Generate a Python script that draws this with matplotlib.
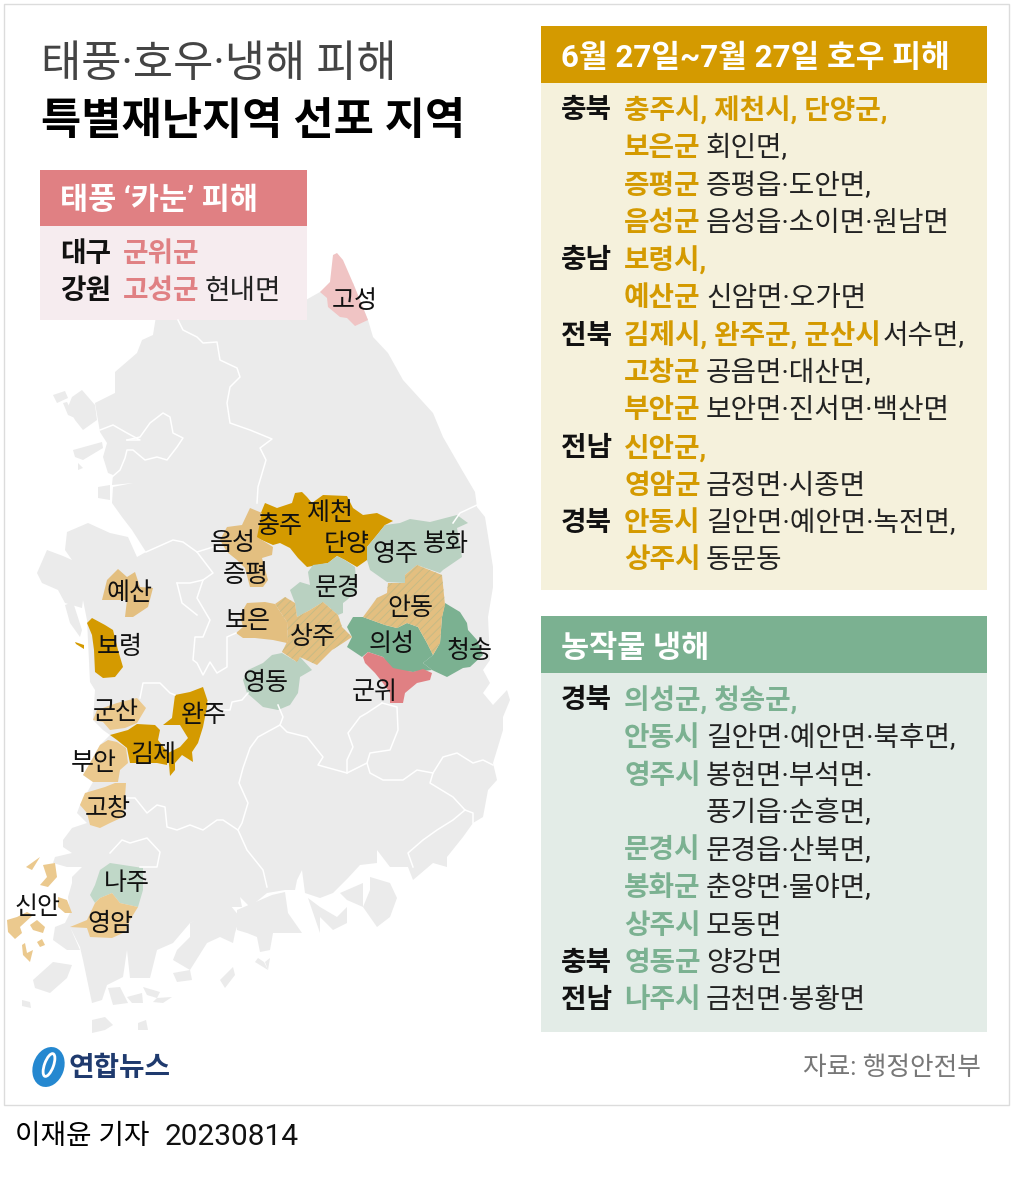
import matplotlib
matplotlib.use("Agg")
import matplotlib.pyplot as plt
from matplotlib.patches import Polygon, Rectangle, Ellipse

plt.rcParams["font.family"] = ["Roboto", "Noto Sans CJK KR", "DejaVu Sans"]
plt.rcParams["hatch.linewidth"] = 0.7

GOLD = "#d49a00"
TAN = "#e3bf80"
SAND = "#ebc98e"
GREEN = "#7bb191"
MINT = "#b9d1c1"
RED = "#e08083"
ROSE = "#f0c4c4"
LAND = "#ebebeb"

# map outlines, in picture pixels
mainland = [(157, 310), (297, 305), (320, 292), (353, 283), (368, 320), (373, 337), (388, 353), (403, 380), (433, 413),
            (443, 437), (462, 470), (475, 492), (477, 507), (485, 517), (493, 567), (493, 587), (488, 617), (490, 660),
            (483, 670), (490, 683), (483, 693), (493, 705), (507, 690), (510, 700), (503, 717), (503, 730), (497, 750),
            (493, 763), (497, 780), (488, 790), (483, 817), (473, 823), (463, 837), (447, 857), (447, 867), (433, 863),
            (413, 880), (408, 867), (390, 867), (377, 850), (377, 863), (360, 865), (348, 878), (333, 893), (320, 898),
            (305, 893), (302, 870), (297, 880), (295, 890), (285, 890), (267, 893), (250, 907), (240, 897), (242, 907),
            (227, 907), (213, 913), (190, 923), (173, 943), (157, 950), (150, 978), (130, 978), (127, 950), (123, 977),
            (107, 985), (102, 1000), (92, 1003), (83, 960), (80, 947), (70, 927), (80, 950), (67, 950), (53, 940),
            (55, 927), (65, 923), (70, 913), (68, 897), (72, 883), (72, 877), (82, 867), (67, 867), (53, 863), (55, 857),
            (72, 853), (63, 847), (63, 840), (72, 828), (87, 823), (77, 813), (80, 805), (93, 782), (83, 775), (90, 763),
            (100, 745), (110, 735), (103, 730), (93, 720), (95, 690), (90, 682), (87, 620), (83, 600), (82, 608),
            (65, 603), (58, 590), (42, 583), (37, 573), (47, 550), (63, 556), (72, 560), (65, 550), (67, 532), (88, 523),
            (110, 533), (128, 537), (137, 557), (146, 552), (132, 530), (122, 517), (112, 503), (113, 487), (133, 483),
            (112, 485), (113, 475), (108, 473), (103, 457), (107, 443), (100, 432), (95, 403), (115, 393), (115, 372),
            (137, 353), (142, 340), (153, 335)]
land_islands = [
    [(72, 397), (82, 390), (95, 405), (97, 420), (83, 430), (75, 420), (68, 407)],
    [(53, 395), (65, 391), (68, 398), (57, 403)],
    [(63, 403), (67, 402), (75, 418), (68, 415)],
    [(73, 450), (102, 442), (103, 448), (83, 460), (75, 457)],
    [(78, 463), (83, 468), (78, 470)],
    [(98, 487), (110, 485), (110, 500), (98, 498)],
    [(65, 605), (73, 602), (82, 630), (80, 637), (70, 623)],
    [(210, 912), (230, 905), (240, 917), (235, 933), (233, 943), (220, 937), (207, 943), (190, 970), (173, 960),
     (177, 950), (190, 937), (190, 923)],
    [(272, 895), (285, 892), (288, 913), (302, 933), (273, 933), (270, 950), (260, 952), (257, 937), (247, 933),
     (237, 930), (237, 910)],
    [(308, 898), (320, 907), (337, 917), (347, 907), (347, 923), (333, 930), (320, 917), (320, 933)],
    [(370, 877), (390, 883), (397, 898), (390, 917), (377, 927), (363, 907), (370, 890)],
    [(340, 893), (363, 883), (363, 907), (347, 900)],
    [(33, 980), (53, 962), (72, 965), (67, 978), (50, 993), (35, 988)],
    [(108, 988), (120, 987), (128, 1003), (113, 1005)],
    [(127, 997), (142, 993), (143, 1003), (132, 1003)],
    [(143, 987), (160, 992), (157, 998), (147, 995)],
    [(157, 998), (172, 997), (163, 1003), (153, 1002)],
    [(173, 973), (190, 970), (192, 980), (177, 982)],
    [(22, 1000), (30, 1002), (31, 1008), (22, 1006)],
    [(220, 980), (233, 967), (235, 975), (225, 988)],
    [(265, 962), (270, 958), (268, 970)],
    [(258, 958), (264, 962), (268, 970), (255, 962)],
    [(92, 1020), (105, 1017), (113, 1025), (105, 1030), (92, 1033)],
    [(138, 1023), (146, 1020), (148, 1030), (138, 1030)],
]

# province and city lines
borders = [
    [(178, 320), (183, 330), (197, 337), (203, 343), (217, 342), (220, 360), (237, 368), (240, 377), (230, 387),
     (227, 403), (230, 423), (250, 430), (272, 439), (260, 448), (266, 460), (258, 487), (257, 503)],
    [(127, 440), (140, 440), (127, 433), (113, 425), (100, 430)],
    [(127, 440), (140, 437), (150, 423), (163, 413), (170, 417), (173, 433), (183, 438), (177, 447), (167, 460),
     (157, 457), (145, 460), (133, 450), (127, 450), (125, 458), (120, 470), (112, 477)],
    [(146, 552), (173, 540), (183, 542), (197, 552), (213, 573), (203, 580), (197, 598), (210, 620), (203, 637),
     (195, 637), (193, 660), (197, 663), (203, 675), (210, 662), (217, 673), (227, 667), (227, 637), (236, 633)],
    [(197, 552), (213, 547), (227, 552)],
    [(177, 583), (190, 583), (203, 580)],
    [(177, 583), (182, 603), (197, 615)],
    [(140, 698), (143, 683), (160, 683), (170, 693), (175, 695)],
    [(208, 702), (213, 710), (230, 710), (232, 702), (242, 700), (248, 693)],
    [(278, 705), (283, 717), (280, 725), (258, 737), (250, 748), (243, 768), (239, 783), (248, 803), (242, 823),
     (238, 830), (247, 850), (263, 870), (267, 887)],
    [(238, 830), (223, 820), (217, 820), (203, 830), (190, 825), (177, 830), (167, 827), (165, 807), (157, 805),
     (147, 813), (135, 798), (125, 798)],
    [(110, 853), (122, 840), (130, 843), (147, 838), (160, 852), (157, 867), (140, 867)],
    [(280, 725), (287, 732), (307, 737), (323, 757), (318, 765), (347, 773), (367, 763), (370, 773), (383, 780),
     (403, 780), (417, 770), (433, 773), (430, 783), (453, 797), (465, 810), (473, 813), (473, 823)],
    [(433, 773), (443, 757), (457, 753), (473, 763), (483, 760), (493, 765)],
    [(465, 810), (453, 820), (437, 830), (423, 840), (408, 853), (413, 867)],
    [(382, 703), (397, 707), (398, 730), (390, 750), (370, 753), (367, 763)],
    [(382, 703), (367, 713), (360, 717), (348, 733), (353, 747), (347, 760), (347, 773)],
    [(477, 505), (460, 513), (453, 523)],
]

# highlighted areas
goseong = [(333, 255), (337, 253), (343, 260), (353, 283), (368, 320), (355, 326), (347, 318), (340, 317), (328, 307),
           (327, 298), (320, 292), (330, 282)]
chungju_jecheon_danyang = [(265, 503), (277, 508), (292, 503), (295, 493), (302, 492), (307, 497), (312, 503), (323, 495),
                           (347, 496), (353, 508), (363, 515), (377, 513), (393, 521), (385, 525), (377, 535), (367, 547),
                           (367, 560), (357, 567), (345, 560), (337, 556), (328, 563), (307, 567), (298, 558), (290, 548),
                           (280, 543), (273, 545), (255, 537), (258, 520)]
eumseong_jeungpyeong = [(250, 508), (262, 513), (257, 537), (273, 547), (272, 555), (262, 558), (268, 580), (263, 587),
                        (250, 587), (245, 568), (237, 560), (227, 552), (220, 540), (227, 527), (242, 525)]
yeongju_bonghwa = [(367, 547), (377, 535), (385, 525), (400, 523), (410, 519), (430, 522), (457, 515), (468, 523),
                   (457, 528), (462, 557), (443, 570), (440, 573), (417, 565), (405, 575), (405, 583), (387, 582),
                   (370, 570), (367, 560)]
andong = [(417, 565), (442, 575), (445, 605), (442, 617), (440, 643), (433, 655), (427, 643), (418, 627), (407, 623),
          (397, 628), (385, 625), (363, 617), (377, 598), (387, 593), (388, 583), (405, 583), (405, 575)]
uiseong = [(363, 617), (385, 625), (397, 628), (407, 623), (418, 627), (427, 643), (433, 655), (423, 663), (432, 670),
           (413, 672), (392, 670), (383, 657), (368, 652), (362, 657), (347, 647), (352, 637), (347, 627), (353, 617)]
cheongsong = [(445, 603), (460, 612), (467, 623), (468, 630), (477, 640), (483, 655), (470, 667), (463, 668), (447, 677),
              (432, 670), (423, 663), (433, 655), (440, 643), (442, 617)]
gunwi = [(363, 657), (368, 652), (383, 657), (393, 668), (413, 672), (423, 669), (432, 673), (430, 680), (417, 683),
         (405, 693), (403, 703), (390, 703), (390, 693), (383, 683), (375, 673), (365, 663)]
mungyeong = [(308, 572), (313, 565), (328, 563), (337, 556), (345, 560), (355, 567), (357, 590), (347, 600), (343, 603),
             (343, 613), (338, 615), (323, 602), (310, 610), (297, 617), (295, 603), (290, 590), (300, 582), (310, 585)]
sangju = [(275, 604), (285, 597), (295, 603), (297, 617), (310, 610), (323, 602), (338, 615), (342, 627), (352, 637),
          (343, 643), (332, 650), (317, 665), (300, 657), (297, 662), (282, 652), (288, 640), (287, 622)]
boeun = [(247, 603), (265, 602), (275, 604), (287, 622), (288, 640), (287, 643), (273, 640), (255, 638), (243, 638),
         (236, 633), (243, 627), (240, 615)]
yeongdong = [(272, 655), (282, 653), (297, 662), (300, 657), (312, 670), (300, 677), (298, 693), (290, 705), (278, 710),
             (263, 707), (247, 693), (243, 680), (248, 670), (263, 663)]
yesan = [(102, 600), (107, 580), (118, 569), (127, 577), (135, 572), (140, 587), (153, 588), (148, 607), (133, 617),
         (125, 617), (127, 600)]
boryeong = [(87, 623), (92, 618), (105, 625), (113, 630), (118, 650), (123, 667), (115, 677), (103, 678), (95, 672),
            (94, 650), (92, 635)]
boryeong_isle = [(75, 642), (84, 645), (84, 649), (76, 644)]
gunsan = [(137, 698), (146, 708), (137, 723), (125, 728), (110, 730), (103, 722), (93, 720), (97, 710), (117, 703)]
wanju = [(175, 695), (190, 692), (203, 687), (208, 702), (203, 727), (198, 743), (192, 752), (193, 762), (182, 755),
         (175, 763), (175, 770), (170, 776), (168, 753), (180, 747), (188, 738), (180, 725), (163, 725), (172, 718)]
gimje = [(110, 735), (128, 730), (137, 724), (155, 725), (160, 730), (158, 740), (168, 753), (167, 765), (157, 763),
         (130, 763), (127, 748), (117, 740)]
buan = [(100, 745), (108, 740), (117, 742), (126, 748), (128, 763), (120, 770), (118, 782), (93, 782), (83, 775), (90, 763)]
gochang = [(85, 793), (105, 787), (115, 783), (126, 783), (125, 798), (123, 817), (110, 823), (100, 828), (90, 825),
           (87, 813), (80, 805)]
naju = [(100, 870), (110, 863), (143, 868), (143, 890), (138, 907), (120, 903), (112, 893), (100, 898), (95, 903), (90, 895),
        (95, 885)]
yeongam = [(95, 903), (100, 898), (112, 893), (120, 903), (138, 907), (130, 920), (125, 932), (112, 938), (90, 937),
           (87, 928), (70, 927), (87, 920)]
sinan = [
    [(26, 867), (40, 857), (32, 870)],
    [(43, 865), (55, 863), (57, 877), (48, 887), (40, 885), (47, 877)],
    [(58, 897), (67, 900), (72, 913), (65, 913), (58, 907)],
    [(7, 920), (17, 917), (27, 912), (33, 915), (20, 927), (22, 933), (15, 939), (8, 932)],
    [(30, 925), (37, 920), (45, 927), (43, 933), (33, 930)],
    [(37, 942), (42, 939), (45, 945), (40, 947)],
    [(22, 945), (25, 943), (27, 953), (33, 950), (30, 962), (23, 955)],
]

map_fills = [
    (goseong, ROSE), (chungju_jecheon_danyang, GOLD), (eumseong_jeungpyeong, TAN), (yeongju_bonghwa, MINT),
    (uiseong, GREEN), (cheongsong, GREEN), (gunwi, RED), (mungyeong, MINT), (boeun, TAN), (yeongdong, MINT),
    (yesan, TAN), (boryeong, GOLD), (boryeong_isle, GOLD), (gunsan, SAND), (gimje, GOLD), (wanju, GOLD), (buan, SAND),
    (gochang, SAND), (naju, "#c0d8c8"), (yeongam, SAND),
]
map_hatched = [andong, sangju]

map_labels = ["고성", "충주", "제천", "단양", "음성", "증평", "영주", "봉화", "문경", "예산", "보은", "상주", "안동",
              "의성", "청송", "보령", "영동", "군위", "군산", "완주", "김제", "부안", "고창", "나주", "신안", "영암"]
label_x = [355, 280, 330, 347, 233, 246, 395, 446, 338, 130, 248, 313, 410, 392, 470, 120, 265, 375, 116, 204, 153, 94, 108,
           127, 38, 110]
label_y = [301, 526, 513, 544, 543, 575, 554, 544, 588, 593, 621, 637, 608, 644, 651, 647, 683, 692, 712, 715, 755, 763, 809,
           883, 907, 924]

# province, coloured part, plain part, x of the plain part
rain_rows = [
    ("충북", "충주시, 제천시, 단양군,", "", 706),
    ("", "보은군", "회인면,", 706),
    ("", "증평군", "증평읍·도안면,", 706),
    ("", "음성군", "음성읍·소이면·원남면", 706),
    ("충남", "보령시,", "", 706),
    ("", "예산군", "신암면·오가면", 706),
    ("전북", "김제시, 완주군, 군산시", "서수면,", 883),
    ("", "고창군", "공음면·대산면,", 706),
    ("", "부안군", "보안면·진서면·백산면", 706),
    ("전남", "신안군,", "", 706),
    ("", "영암군", "금정면·시종면", 706),
    ("경북", "안동시", "길안면·예안면·녹전면,", 706),
    ("", "상주시", "동문동", 706),
]
frost_rows = [
    ("경북", "의성군, 청송군,", "", 706),
    ("", "안동시", "길안면·예안면·북후면,", 706),
    ("", "영주시", "봉현면·부석면·", 706),
    ("", "", "풍기읍·순흥면,", 706),
    ("", "문경시", "문경읍·산북면,", 706),
    ("", "봉화군", "춘양면·물야면,", 706),
    ("", "상주시", "모동면", 706),
    ("충북", "영동군", "양강면", 706),
    ("전남", "나주시", "금천면·봉황면", 706),
]
typhoon_rows = [
    ("대구", "군위군", "", 205),
    ("강원", "고성군", "현내면", 205),
]


def draw_rows(ax, rows, first_y, step, name_x, area_x, color, size):
    for i, (province, area, plain, plain_x) in enumerate(rows):
        y = first_y + i * step
        ax.text(name_x, y, province, fontsize=size, fontweight="bold", color="#111111", va="center")
        ax.text(area_x, y, area, fontsize=size, fontweight="bold", color=color, va="center")
        ax.text(plain_x, y, plain, fontsize=size, color="#222222", va="center")


fig = plt.figure(figsize=(10.11, 11.82), dpi=100)
ax = fig.add_axes([0, 0, 1, 1])
ax.set_xlim(0, 1011)
ax.set_ylim(1182, 0)
ax.axis("off")

# frame round the graphic
ax.add_patch(Rectangle((4, 4), 1004.5, 1101, fc="white", ec="#dcdcdc", lw=1))

ax.add_patch(Polygon(mainland, fc=LAND, ec="none"))
for isle in land_islands:
    ax.add_patch(Polygon(isle, fc=LAND, ec="none"))
for line in borders:
    ax.plot(*zip(*line), color="white", lw=1.1, solid_joinstyle="round")

for shape, color in map_fills:
    ax.add_patch(Polygon(shape, fc=color, ec="none"))
for shape in map_hatched:
    ax.add_patch(Polygon(shape, fc=TAN, ec="none"))
    ax.add_patch(Polygon(shape, fc="none", ec="#c7bb85", hatch="////", lw=0))
for isle in sinan:
    ax.add_patch(Polygon(isle, fc=SAND, ec="none"))

for name, x, y in zip(map_labels, label_x, label_y):
    ax.text(x, y, name, fontsize=18, color="#111111", ha="center", va="center")

# title
ax.text(41, 65, "태풍·호우·냉해 피해", fontsize=31.5, color="#444444", va="center")
ax.text(41, 122, "특별재난지역 선포 지역", fontsize=31.5, color="black", va="center", fontweight="bold")

# typhoon box
ax.add_patch(Rectangle((40, 170), 267, 56, fc=RED, ec="none"))
ax.add_patch(Rectangle((40, 226), 267, 94, fc="#f6ecef", ec="none"))
ax.text(60, 200, "태풍 ‘카눈’ 피해", fontsize=22, fontweight="bold", color="white", va="center")
draw_rows(ax, typhoon_rows, 254, 37.5, 60, 123, RED, 20)

# rain box
ax.add_patch(Rectangle((541, 26), 446, 57, fc=GOLD, ec="none"))
ax.add_patch(Rectangle((541, 83), 446, 507, fc="#f5f1dc", ec="none"))
ax.text(561, 58, "6월 27일~7월 27일 호우 피해", fontsize=22.5, fontweight="bold", color="white", va="center")
draw_rows(ax, rain_rows, 111, 37.5, 561, 624, GOLD, 20)

# crop damage box
ax.add_patch(Rectangle((541, 616), 446, 57, fc=GREEN, ec="none"))
ax.add_patch(Rectangle((541, 673), 446, 359, fc="#e3ece7", ec="none"))
ax.text(561, 648, "농작물 냉해", fontsize=22, fontweight="bold", color="white", va="center")
draw_rows(ax, frost_rows, 701, 37.5, 561, 624, GREEN, 20)

ax.text(981, 1068, "자료: 행정안전부", fontsize=18.5, color="#777777", ha="right", va="center")

# news agency mark
ax.add_patch(Ellipse((48.5, 1067), 31, 41, angle=20, fc="#2588d0", ec="none"))
ax.add_patch(Ellipse((49, 1065), 9, 24, angle=20, fc="none", ec="white", lw=2))
ax.text(68, 1069, "연합뉴스", fontsize=20, fontweight="bold", color="#1f3a6e", va="center")

ax.text(15, 1137, "이재윤 기자", fontsize=20, color="black", va="center")
ax.text(165, 1137, "20230814", fontsize=21.5, color="#111111", va="center")

fig.savefig("out.png", dpi=100)
